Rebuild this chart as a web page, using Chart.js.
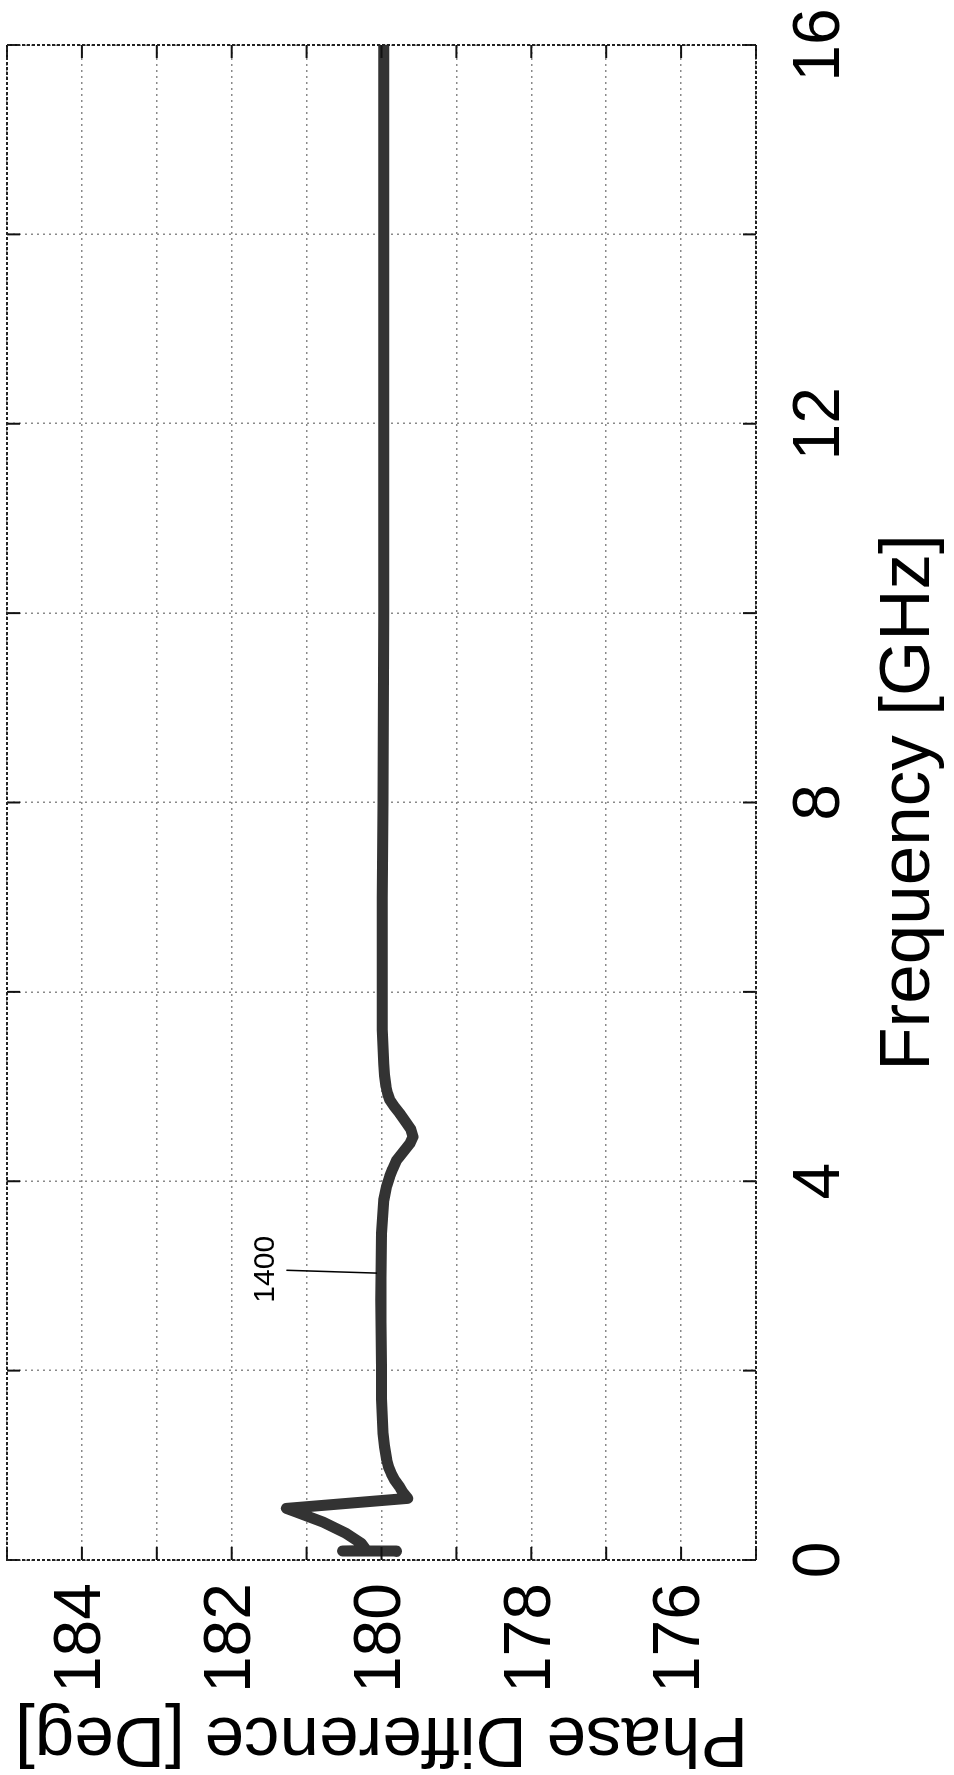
<!DOCTYPE html>
<html>
<head>
<meta charset="utf-8">
<script src="https://cdn.jsdelivr.net/npm/chart.js@4/dist/chart.umd.min.js"></script>
<style>
  html, body { margin: 0; padding: 0; background: #fff; }
  body { width: 954px; height: 1775px; overflow: hidden; position: relative; }
  /* the figure is printed on its side: draw it normally, then turn it */
  #giro {
    position: absolute; left: 0; top: 0;
    width: 1775px; height: 954px;
    transform-origin: 0 0;
    transform: translate(0, 1775px) rotate(-90deg);
  }
</style>
</head>
<body>
<div id="giro"><canvas id="grafico" width="1775" height="954"></canvas></div>
<script>
// curve 1400 - phase difference vs frequency
var freqGHz = [0.090, 0.095, 0.100, 0.176, 0.28, 0.40, 0.51, 0.545, 0.651, 0.68, 0.72, 0.774, 0.84, 0.915,
  0.98, 1.056, 1.20, 1.34, 1.70, 2.04, 2.75, 3.45, 3.80, 3.95, 4.05, 4.13, 4.22, 4.31, 4.40, 4.47, 4.55,
  4.63, 4.72, 4.79, 4.86, 4.93, 5.00, 5.12, 5.24, 5.60, 6.0, 7.0, 8.0, 10.0, 12.0, 14.0, 16.0];
var phaseDeg = [179.80, 180.52, 180.20, 180.27, 180.47, 180.78, 181.15, 181.27, 179.65, 179.68, 179.72, 179.76, 179.82, 179.87,
  179.905, 179.93, 179.96, 179.98, 180.00, 180.00, 180.01, 180.00, 179.97, 179.93, 179.89, 179.85, 179.80, 179.71, 179.62, 179.58, 179.61,
  179.68, 179.76, 179.83, 179.89, 179.92, 179.94, 179.96, 179.97, 179.99, 179.99, 179.99, 179.98, 179.97, 179.97, 179.97, 179.97];

// axis ticks
var freqTicks = [0, 4, 8, 12, 16];
var phaseTicks = [176, 178, 180, 182, 184];

// reference label "1400" and its leader line, in data units
var rotuloTexto = '1400';
var rotuloPos = [3.07, 181.54];
var rotuloLinha = [[3.06, 181.27], [3.03, 180.06]];

var pontos = [];
for (var i = 0; i < freqGHz.length; i++) {
  pontos.push({ x: freqGHz[i], y: phaseDeg[i] });
}

var fonte = 'Liberation Sans, Arial, sans-serif';

function linha(ctx, x1, y1, x2, y2) {
  ctx.beginPath();
  ctx.moveTo(x1, y1);
  ctx.lineTo(x2, y2);
  ctx.stroke();
}

// frame, inner tick marks and the 1400 callout
const moldura = {
  id: 'moldura',
  afterDatasetsDraw(chart) {
    const ctx = chart.ctx;
    const a = chart.chartArea;
    const sx = chart.scales.x;
    const sy = chart.scales.y;
    ctx.save();
    ctx.strokeStyle = '#111';
    ctx.lineWidth = 2;
    ctx.setLineDash([]);
    sx.ticks.forEach(function (t) {
      var px = sx.getPixelForValue(t.value);
      linha(ctx, px, a.bottom, px, a.bottom - 13);
      linha(ctx, px, a.top, px, a.top + 13);
    });
    sy.ticks.forEach(function (t) {
      var py = sy.getPixelForValue(t.value);
      linha(ctx, a.left, py, a.left + 13, py);
      linha(ctx, a.right, py, a.right - 13, py);
    });
    ctx.setLineDash([3, 2]);
    ctx.strokeStyle = '#222';
    ctx.strokeRect(a.left, a.top, a.right - a.left, a.bottom - a.top);

    ctx.setLineDash([]);
    ctx.lineWidth = 1.5;
    ctx.strokeStyle = '#000';
    linha(ctx,
      sx.getPixelForValue(rotuloLinha[0][0]), sy.getPixelForValue(rotuloLinha[0][1]),
      sx.getPixelForValue(rotuloLinha[1][0]), sy.getPixelForValue(rotuloLinha[1][1]));
    ctx.fillStyle = '#000';
    ctx.font = '30px ' + fonte;
    ctx.textAlign = 'center';
    ctx.textBaseline = 'middle';
    ctx.fillText(rotuloTexto, sx.getPixelForValue(rotuloPos[0]), sy.getPixelForValue(rotuloPos[1]));
    ctx.restore();
  }
};

const config = {
  type: 'line',
  data: {
    datasets: [{
      label: '1400',
      data: pontos,
      borderColor: '#333',
      borderWidth: 11,
      pointRadius: 0,
      tension: 0,
      fill: false,
      borderJoinStyle: 'round',
      borderCapStyle: 'round'
    }]
  },
  options: {
    responsive: false,
    animation: false,
    devicePixelRatio: 1,
    layout: { padding: { left: 0, top: 7, right: 45, bottom: 0 } },
    plugins: { legend: { display: false }, tooltip: { enabled: false } },
    scales: {
      x: {
        type: 'linear',
        min: 0,
        max: 16,
        ticks: {
          stepSize: 2,
          autoSkip: false,
          padding: 25,
          color: '#000',
          maxRotation: 0,
          font: { family: fonte, size: 66 },
          callback: function (v) { return freqTicks.indexOf(v) >= 0 ? String(v) : ''; }
        },
        grid: { color: '#8a8a8a', lineWidth: 1.5, drawTicks: false },
        border: { display: false, dash: [2, 4] },
        title: {
          display: true,
          text: 'Frequency [GHz]',
          color: '#000',
          font: { family: fonte, size: 71, lineHeight: 1 },
          padding: { top: 0, bottom: 9 }
        },
        afterFit: function (s) { s.height = 198; s.paddingLeft = 0; s.paddingRight = 0; }
      },
      y: {
        min: 175,
        max: 185,
        ticks: {
          stepSize: 1,
          autoSkip: false,
          padding: 23,
          color: '#000',
          font: { family: fonte, size: 66 },
          callback: function (v) { return phaseTicks.indexOf(v) >= 0 ? String(v) : ''; }
        },
        grid: { color: '#8a8a8a', lineWidth: 1.5, drawTicks: false },
        border: { display: false, dash: [2, 4] },
        title: {
          display: true,
          text: 'Phase Difference [Deg]',
          color: '#000',
          font: { family: fonte, size: 71, lineHeight: 1 },
          padding: { top: 2, bottom: 0 }
        },
        afterFit: function (s) { s.width = 215; s.paddingTop = 0; s.paddingBottom = 0; }
      }
    }
  },
  plugins: [moldura]
};

let myChart = new Chart(document.getElementById('grafico'), config);
</script>
</body>
</html>
